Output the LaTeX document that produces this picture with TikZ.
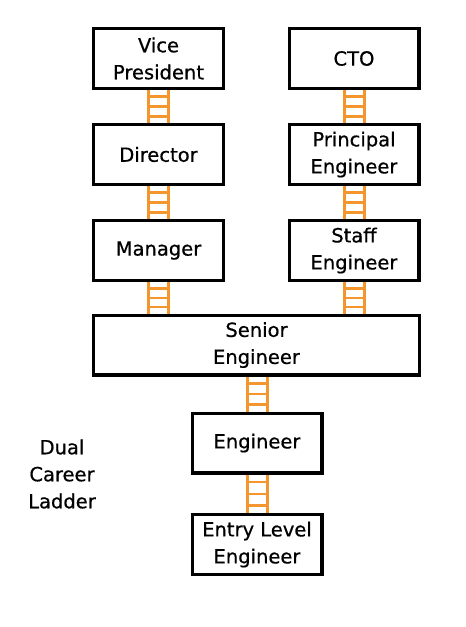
\documentclass[tikz,border=0pt]{standalone}
\usepackage{fontspec}
\setmainfont{DejaVu Sans}
\newfontfamily\ladderfont{DejaVu Sans}[FakeBold=0.6]
\usetikzlibrary{calc}
\definecolor{ladderorange}{RGB}{242,150,45}

\tikzset{
  rung box/.style={draw, line width=3.4pt, fill=white, align=center,
    minimum width=129.6pt, minimum height=59.6pt, inner sep=2pt,
    font=\ladderfont\fontsize{19.5}{27}\selectfont},
  rail/.style={draw=ladderorange, line width=3pt},
  crossbar/.style={draw=ladderorange, line width=2.5pt}
}

% #1 = top end, #2 = bottom end of a ladder
\newcommand{\ladder}[2]{
  \draw[rail] ([xshift=-10pt]#1) -- ([xshift=-10pt]#2);
  \draw[rail] ([xshift=10pt]#1) -- ([xshift=10pt]#2);
  \foreach \f in {0.2,0.5,0.8}
    \draw[crossbar] ($([xshift=-10pt]#1)!\f!([xshift=-10pt]#2)$)
      -- ($([xshift=10pt]#1)!\f!([xshift=10pt]#2)$);
}

\begin{document}
\begin{tikzpicture}[x=1pt,y=-1pt]
  \useasboundingbox (0,0) rectangle (466,627);

  \node[rung box] (vp) at (158.5,58.5) {Vice\\President};
  \node[rung box] (cto) at (354,58.5) {CTO};
  \node[rung box] (dir) at (158.5,154.5) {Director};
  \node[rung box] (pe) at (354,154.5) {Principal\\Engineer};
  \node[rung box] (mgr) at (158.5,250.5) {Manager};
  \node[rung box] (staff) at (354,250.5) {Staff\\Engineer};
  \node[rung box, minimum width=325.6pt] (senior) at (256.5,345) {Senior\\Engineer};
  \node[rung box] (eng) at (257,443) {Engineer};
  \node[rung box] (entry) at (257,544.5) {Entry Level\\Engineer};

  \node[align=center, font=\ladderfont\fontsize{19.5}{27}\selectfont] (title) at (62,474) {Dual\\Career\\Ladder};

  \ladder{vp.south}{dir.north}
  \ladder{dir.south}{mgr.north}
  \ladder{cto.south}{pe.north}
  \ladder{pe.south}{staff.north}
  \ladder{mgr.south}{mgr.south |- senior.north}
  \ladder{staff.south}{staff.south |- senior.north}
  \ladder{eng.north |- senior.south}{eng.north}
  \ladder{eng.south}{entry.north}
\end{tikzpicture}
\end{document}
